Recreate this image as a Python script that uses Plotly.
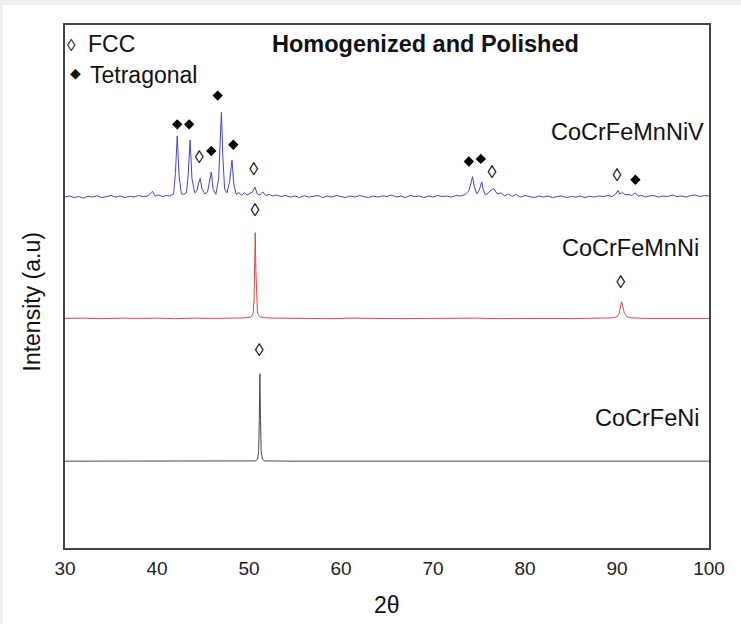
import plotly.graph_objects as go

# ---------------- data ----------------
two_theta_blue = [30.0, 30.5, 31.0, 31.5, 32.0, 32.5, 33.0, 33.5, 34.0, 34.5, 35.0, 35.5, 36.0, 36.5, 37.0, 37.5,
                  38.0, 38.5, 39.0, 39.5, 39.8, 40.2, 40.6, 41.0, 41.4, 41.8, 42.0, 42.2, 42.4, 42.65, 42.9, 43.2,
                  43.4, 43.6, 43.8, 44.1, 44.35, 44.5, 44.7, 44.9, 45.2, 45.5, 45.7, 45.9, 46.1, 46.4, 46.7, 46.85,
                  47.0, 47.15, 47.35, 47.6, 47.9, 48.15, 48.35, 48.6, 48.9, 49.2, 49.5, 49.8, 50.1, 50.4, 50.65,
                  50.9, 51.2, 51.5, 51.8, 52.2, 52.6, 53.0, 53.5, 54.0, 54.5, 55.0, 55.5, 56.0, 56.5, 57.0, 57.5,
                  58.0, 58.5, 59.0, 59.5, 60.0, 60.5, 61.0, 61.5, 62.0, 62.5, 63.0, 63.5, 64.0, 64.5, 65.0, 65.5,
                  66.0, 66.5, 67.0, 67.5, 68.0, 68.5, 69.0, 69.5, 70.0, 70.5, 71.0, 71.5, 72.0, 72.5, 73.0, 73.5,
                  73.9, 74.1, 74.3, 74.5, 74.75, 75.0, 75.15, 75.3, 75.45, 75.7, 76.0, 76.3, 76.6, 76.8, 77.0,
                  77.4, 77.8, 78.2, 78.6, 79.0, 79.5, 80.0, 80.5, 81.0, 81.5, 82.0, 82.5, 83.0, 83.5, 84.0, 84.5,
                  85.0, 85.5, 86.0, 86.5, 87.0, 87.5, 88.0, 88.5, 89.0, 89.5, 89.9, 90.1, 90.3, 90.6, 90.9, 91.2,
                  91.6, 92.0, 92.3, 92.7, 93.1, 93.5, 94.0, 94.5, 95.0, 95.5, 96.0, 96.5, 97.0, 97.5, 98.0, 98.5,
                  99.0, 99.5, 100.0]
intensity_blue = [0.0, 0.2, -0.1, 0.1, -0.2, 0.15, 0.0, 0.25, -0.1, 0.1, 0.3, 0.0, 0.2, -0.1, 0.15, 0.0,
                  0.3, 0.1, 0.2, 1.1, 0.2, 0.4, 0.1, 0.3, 0.2, 0.6, 4.5, 11.7, 4.0, 0.6, 0.5, 0.8,
                  4.5, 10.9, 3.5, 0.8, 1.2, 2.5, 3.6, 1.5, 0.6, 1.0, 2.8, 4.8, 1.5, 0.5, 3.5, 10.0,
                  16.2, 8.0, 1.5, 0.8, 3.0, 7.1, 2.5, 0.5, 0.9, 0.3, 0.8, 0.4, 0.7, 1.0, 1.9,
                  0.6, 0.4, 1.0, 0.3, 0.5, 0.2, 0.4, 0.1, 0.3, 0.0, 0.2, -0.1, 0.25, 0.0, 0.1, 0.3,
                  -0.1, 0.2, 0.0, 0.3, 0.1, -0.1, 0.2, 0.0, 0.3, 0.1, -0.1, 0.2, 0.0, 0.25, 0.1, 0.4,
                  0.0, 0.2, -0.1, 0.3, 0.1, 0.2, -0.1, 0.2, 0.0, 0.3, 0.1, 0.2, 0.0, 0.3, 0.2, 0.5,
                  1.2, 2.5, 3.9, 2.0, 0.6, 1.2, 2.2, 2.9, 1.5, 0.4, 0.8, 1.3, 1.6, 1.2, 0.6,
                  0.8, 0.2, 0.6, 0.1, 0.5, 0.0, 0.3, 0.1, -0.1, 0.2, 0.0, 0.2, -0.1, 0.1, 0.2, -0.1,
                  0.1, 0.0, 0.2, -0.1, 0.15, 0.0, 0.2, 0.1, 0.3, 0.1, 0.7, 1.3, 0.6, 0.9, 0.4, 0.5,
                  0.3, 0.8, 0.2, 0.3, 0.0, 0.2, 0.3, 0.0, 0.2, 0.1, 0.4, 0.1, 0.2, 0.0, 0.3, 0.4,
                  0.1, 0.3, 0.2]

two_theta_red = [30.0, 32.0, 34.0, 36.0, 38.0, 40.0, 42.0, 44.0, 46.0, 48.0, 49.5, 50.2, 50.45, 50.55, 50.62,
                 50.68, 50.75, 50.82, 50.92, 51.2, 51.8, 53.0, 55.0, 57.0, 59.0, 61.0, 63.0, 65.0, 67.0, 69.0,
                 71.0, 73.0, 75.0, 77.0, 79.0, 81.0, 83.0, 85.0, 87.0, 89.5, 90.0, 90.25, 90.4, 90.5, 90.6,
                 90.8, 91.1, 91.6, 93.0, 95.0, 97.0, 100.0]
intensity_red = [0.0, 0.05, -0.05, 0.05, 0.0, 0.05, -0.05, 0.05, 0.0, 0.05, 0.1, 0.25, 0.9, 3.5, 9.0,
                 16.4, 9.0, 3.5, 1.0, 0.3, 0.1, 0.05, 0.0, 0.05, -0.05, 0.05, 0.0, 0.05, -0.05, 0.0,
                 0.05, 0.0, 0.05, -0.05, 0.0, 0.05, 0.0, -0.05, 0.05, 0.1, 0.3, 1.0, 2.4, 3.2, 2.4,
                 1.0, 0.3, 0.1, 0.0, 0.05, 0.0, 0.0]

two_theta_black = [30.0, 35.0, 40.0, 45.0, 50.0, 50.7, 50.95, 51.05, 51.12, 51.18, 51.25, 51.32, 51.45, 51.7,
                   55.0, 60.0, 65.0, 70.0, 75.0, 80.0, 85.0, 90.0, 95.0, 100.0]
intensity_black = [0.0, 0.0, 0.0, 0.0, 0.0, 0.05, 0.4, 2.0, 8.0, 16.7, 8.0, 2.0, 0.4, 0.05,
                   0.0, 0.0, 0.0, 0.0, 0.0, 0.0, 0.0, 0.0, 0.0, 0.0]

sample_names = ["CoCrFeMnNiV", "CoCrFeMnNi", "CoCrFeNi"]
stack_offsets = [67.1, 43.9, 16.6]
line_colors = ["#4646c4", "#d24848", "#4a4a4a"]

# phase markers (2theta, stacked height)
tetragonal_x = [42.2, 43.5, 45.9, 46.6, 48.3, 73.9, 75.2, 92.0]
tetragonal_y = [81.0, 81.0, 75.9, 86.5, 77.1, 73.9, 74.4, 70.4]
fcc_x = [44.6, 50.5, 76.4, 90.0, 50.65, 90.4, 51.1]
fcc_y = [74.4, 72.1, 71.6, 71.1, 64.3, 50.6, 37.5]

x_ticks = [30, 40, 50, 60, 70, 80, 90, 100]

# ---------------- figure ----------------
fig = go.Figure()
series = [(two_theta_blue, intensity_blue), (two_theta_red, intensity_red), (two_theta_black, intensity_black)]
for (xs, ys), name, off, col in zip(series, sample_names, stack_offsets, line_colors):
    fig.add_trace(go.Scatter(x=xs, y=[v + off for v in ys], mode="lines", name=name,
                             line=dict(color=col, width=1), showlegend=False, hoverinfo="skip"))

fig.add_trace(go.Scatter(x=tetragonal_x, y=tetragonal_y, mode="markers", name="Tetragonal",
                         marker=dict(symbol="diamond", size=8, color="black"), showlegend=False))
fig.add_trace(go.Scatter(x=fcc_x, y=fcc_y, mode="text", text=["◊"] * len(fcc_x), name="FCC",
                         textposition="middle center",
                         textfont=dict(family="Liberation Sans", size=18, color="black"), showlegend=False))

FONT = "Liberation Sans, Arial, sans-serif"

def px_x(p):
    return (p - 65) / 644

def px_y(p):
    return (548 - p) / 523

annotations = [
    dict(text="<b>Homogenized and Polished</b>", x=px_x(425.5), y=px_y(43.5), xanchor="center", yanchor="middle",
         font=dict(family=FONT, size=23.5, color="#111"), showarrow=False),
    dict(text="FCC", x=px_x(86), y=px_y(43.5), xanchor="left", yanchor="middle",
         font=dict(family=FONT, size=23, color="#111"), showarrow=False),
    dict(text="Tetragonal", x=px_x(88), y=px_y(74.5), xanchor="left", yanchor="middle",
         font=dict(family=FONT, size=23, color="#111"), showarrow=False),
    dict(text="◊", x=px_x(71.5), y=px_y(45), xanchor="center", yanchor="middle",
         font=dict(family=FONT, size=17, color="#111"), showarrow=False),
    dict(text="◆", x=px_x(75), y=px_y(73), xanchor="center", yanchor="middle",
         font=dict(family="DejaVu Sans", size=14, color="#111"), showarrow=False),
    dict(text=sample_names[0], x=px_x(706), y=px_y(132.5), xanchor="right", yanchor="middle",
         font=dict(family=FONT, size=23.5, color="#111"), showarrow=False),
    dict(text=sample_names[1], x=px_x(701), y=px_y(247.5), xanchor="right", yanchor="middle",
         font=dict(family=FONT, size=23.5, color="#111"), showarrow=False),
    dict(text=sample_names[2], x=px_x(701), y=px_y(418), xanchor="right", yanchor="middle",
         font=dict(family=FONT, size=23.5, color="#111"), showarrow=False),
    dict(text="Intensity (a.u)", x=px_x(31.5), y=px_y(302), xanchor="center", yanchor="middle",
         textangle=-90, font=dict(family=FONT, size=23, color="#111"), showarrow=False),
    dict(text="2θ", x=px_x(387), y=px_y(605), xanchor="center", yanchor="middle",
         font=dict(family=FONT, size=23, color="#111"), showarrow=False),
]
for a in annotations:
    a["xref"] = "paper"
    a["yref"] = "paper"

shapes = [
    dict(type="rect", xref="paper", yref="paper", x0=px_x(0), x1=px_x(741), y0=px_y(5), y1=px_y(0),
         fillcolor="#efefef", line=dict(width=0), layer="below"),
    dict(type="rect", xref="paper", yref="paper", x0=px_x(0), x1=px_x(3), y0=px_y(624), y1=px_y(0),
         fillcolor="#efefef", line=dict(width=0), layer="below"),
]

fig.update_layout(
    width=741, height=624,
    margin=dict(l=65, r=32, t=25, b=76, autoexpand=False),
    paper_bgcolor="white", plot_bgcolor="white",
    annotations=annotations, shapes=shapes,
    showlegend=False,
    font=dict(family=FONT, color="#111"),
)
fig.update_xaxes(range=[30, 100], tickvals=x_ticks, ticktext=[str(t) for t in x_ticks],
                 showgrid=False, zeroline=False, showline=True, mirror=True, linecolor="#444", linewidth=2,
                 ticks="outside", ticklen=2, tickcolor="rgba(0,0,0,0)",
                 tickfont=dict(family=FONT, size=19, color="#222"))
fig.update_yaxes(range=[0, 100], showticklabels=False, showgrid=False, zeroline=False, showline=True,
                 mirror=True, linecolor="#444", linewidth=2, ticks="")

fig.write_html("out.html")
